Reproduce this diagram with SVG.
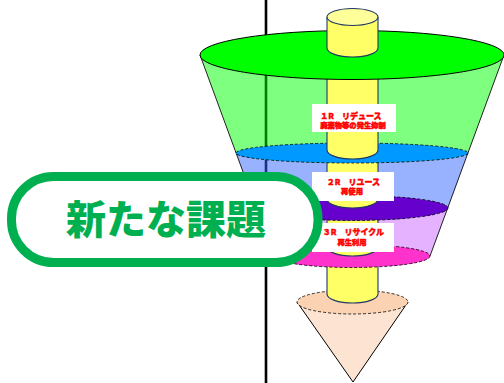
<svg xmlns="http://www.w3.org/2000/svg" width="504" height="383" viewBox="0 0 504 383">
  <defs>
    <style>
      .axis { stroke: #000; stroke-width: 2.6; }
      .dash { stroke: #000; stroke-width: 0.8; stroke-dasharray: 3 2; }
      .solid { stroke: #000; stroke-width: 1; }
      .cyl { fill: #ffff66; stroke: #1f3864; stroke-width: 1.1; }
      .cap { fill: #ffff99; stroke: #1f3864; stroke-width: 1.1; }
      .side { stroke: none; opacity: 0.5; }
      .edge { stroke: #222; stroke-width: 1; fill: none; }
      .tag { fill: #fff; }
      .t1 { font-family: "Noto Sans CJK JP", "Liberation Sans", sans-serif; font-weight: 900; font-size: 8px; fill: #ff0000; stroke: #ff0000; stroke-width: 0.4; text-anchor: middle; }
      .t2 { font-family: "Noto Sans CJK JP", "Liberation Sans", sans-serif; font-weight: 900; font-size: 7.3px; fill: #ff0000; stroke: #ff0000; stroke-width: 0.5; text-anchor: middle; }
      .title { font-family: "Noto Sans CJK JP", "Liberation Sans", sans-serif; font-weight: 900; font-size: 40px; fill: #00b050; text-anchor: middle; }
    </style>
  </defs>

  <!-- vertical divider -->
  <line class="axis" x1="266" y1="0" x2="266" y2="383"/>

  <g id="funnel">
    <!-- bottom cone -->
    <path d="M297,302 L353,382 L408,302 Z" fill="#fde4d2" class="solid"/>
    <ellipse cx="352.5" cy="302" rx="55.5" ry="12" fill="#fbd3b3" class="dash"/>
    <!-- shaft piece E -->
    <path class="cyl" d="M327,256 L327,294 A25.5,9 0 0 0 378,294 L378,256"/>

    <!-- recycle layer -->
    <path class="side" fill="#cc66ff" d="M256,208 L274,256 A78,11.5 0 0 0 430,256 L448,208 Z"/>
    <ellipse cx="352" cy="256" rx="78" ry="11.5" fill="#ff33cc" class="dash"/>
    <path class="cyl" d="M327,208 L327,247 A25.5,9 0 0 0 378,247 L378,208"/>

    <!-- reuse layer -->
    <path class="side" fill="#3366ff" d="M236,153 L256,208 A96,12.5 0 0 0 448,208 L468,153 Z"/>
    <ellipse cx="352" cy="208" rx="96" ry="12.5" fill="#6600cc" class="dash"/>
    <path class="cyl" d="M327,153 L327,199 A25.5,9 0 0 0 378,199 L378,153"/>

    <!-- reduce layer -->
    <path class="side" fill="#00ff00" d="M200,55 L236,153 A116,10 0 0 0 468,153 L504,55 Z"/>
    <line class="edge" x1="200" y1="55" x2="274" y2="256"/>
    <line class="edge" x1="504" y1="55" x2="430" y2="256"/>
    <ellipse cx="352" cy="153" rx="116" ry="10" fill="#0099ff" class="dash"/>
    <path class="cyl" d="M327,55 L327,150 A25.5,9 0 0 0 378,150 L378,55"/>

    <!-- top rim -->
    <ellipse cx="352" cy="55" rx="152" ry="24.5" fill="#00ff00" class="solid"/>
    <path class="cyl" d="M327,17 L327,48 A25.5,9 0 0 0 378,48 L378,17"/>
    <ellipse class="cap" cx="352.5" cy="17" rx="25.5" ry="8.5"/>
  </g>

  <g id="label-reduce">
    <rect class="tag" x="312" y="104" width="84" height="28"/>
    <text class="t1" x="351" y="119">１R　リデュース</text>
    <text class="t2" x="353" y="128">廃棄物等の発生抑制</text>
  </g>

  <g id="label-reuse">
    <rect class="tag" x="312" y="172" width="82" height="29"/>
    <text class="t1" x="353.5" y="185">２R　リユース</text>
    <text class="t2" x="352" y="194">再使用</text>
  </g>

  <g id="label-recycle">
    <rect class="tag" x="312" y="223" width="82" height="29"/>
    <text class="t1" x="353.5" y="235">３R　リサイクル</text>
    <text class="t2" x="352" y="245">再生利用</text>
  </g>

  <g id="callout">
    <rect x="11.5" y="176.5" width="306.5" height="86" rx="42" fill="#fff" stroke="#00b050" stroke-width="9"/>
    <text class="title" x="166" y="234">新たな課題</text>
  </g>
</svg>
